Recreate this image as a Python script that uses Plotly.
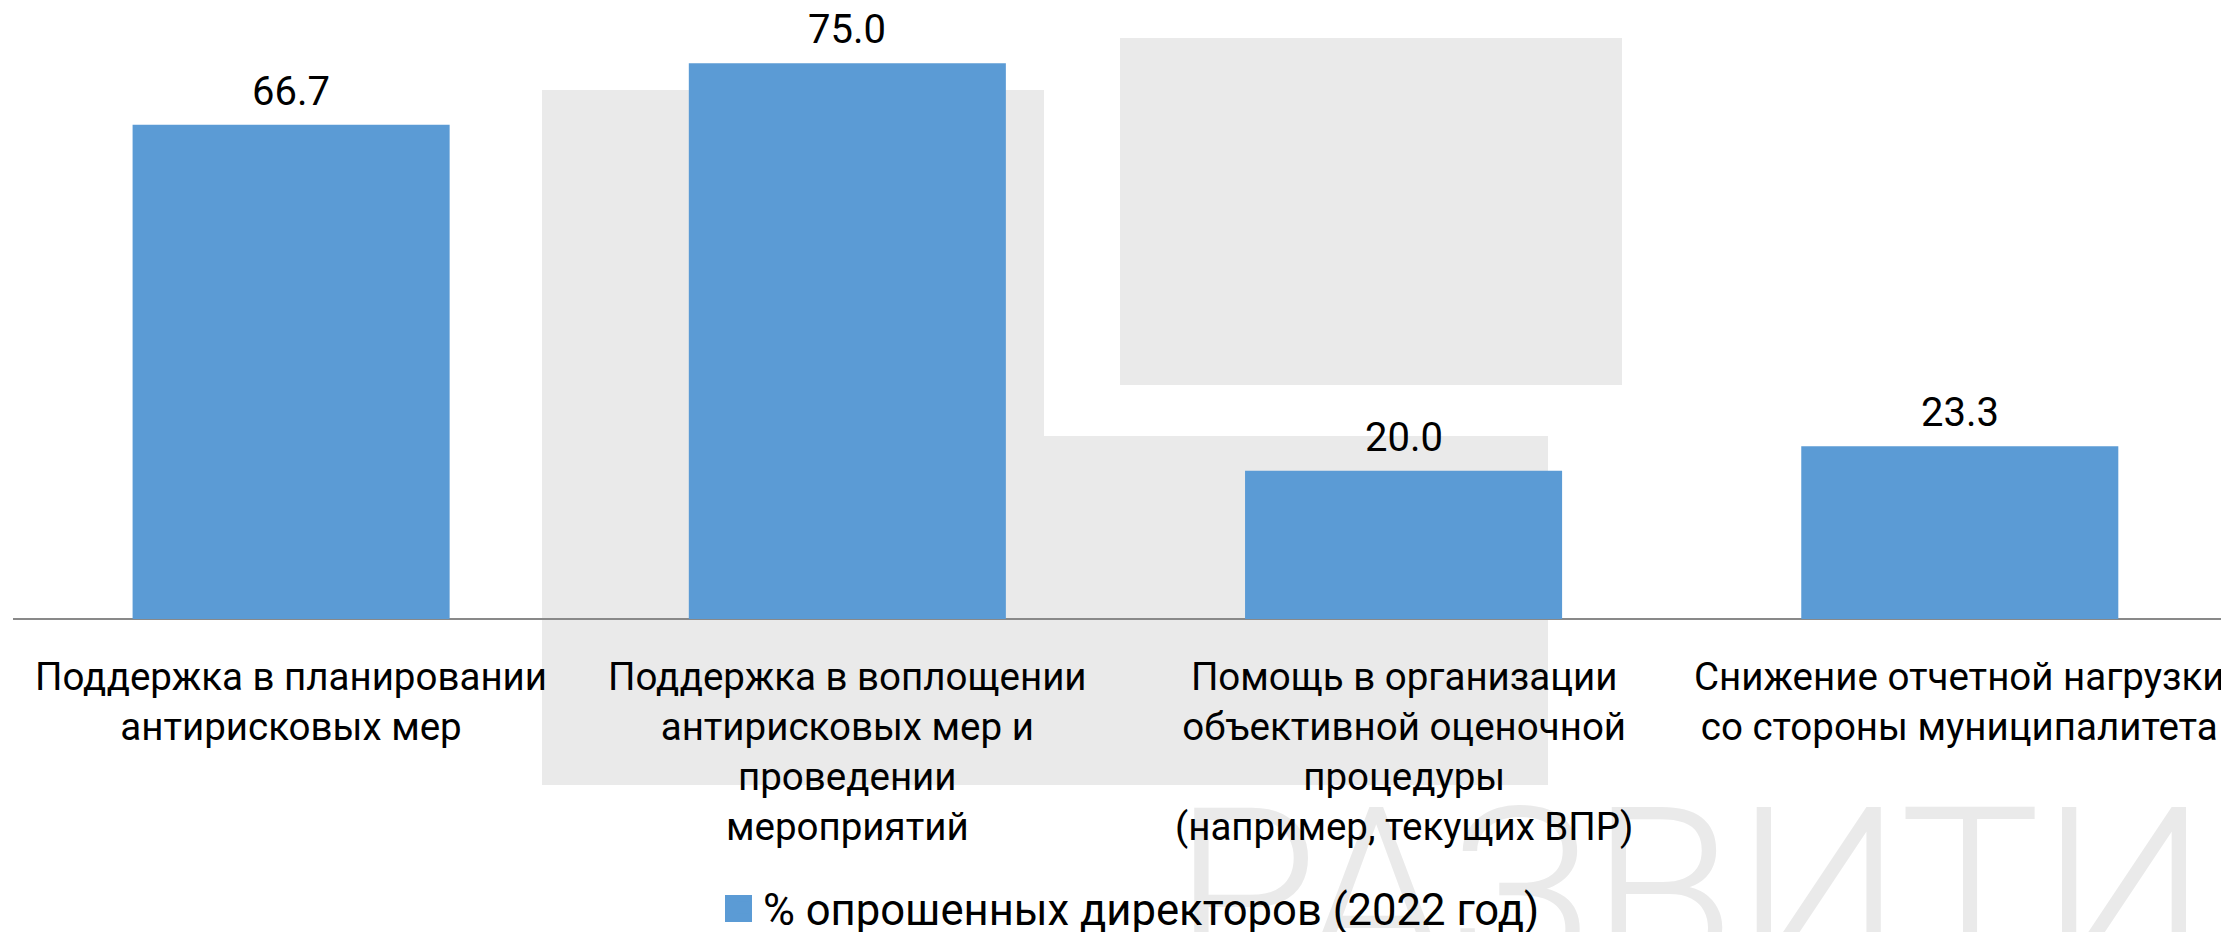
import plotly.graph_objects as go

categories = [
    "Поддержка в планировании антирисковых мер",
    "Поддержка в воплощении антирисковых мер и проведении мероприятий",
    "Помощь в организации объективной оценочной процедуры (например, текущих ВПР)",
    "Снижение отчетной нагрузки со стороны муниципалитета",
]
tick_labels = [
    "Поддержка в планировании<br>антирисковых мер",
    "Поддержка в воплощении<br>антирисковых мер и<br>проведении<br>мероприятий",
    "Помощь в организации<br>объективной оценочной<br>процедуры<br>(например, текущих ВПР)",
    "Снижение отчетной нагрузки<br>со стороны муниципалитета",
]
values = [66.7, 75.0, 20.0, 23.3]
series_name = "% опрошенных директоров (2022 год)"
watermark_text = "РАЗВИТИ"

# target picture size and the page's default body margin
SW, SH = 2229, 932
OFF = 8
W, H = SW - OFF, SH - OFF          # figure size so it ends at the window edge
PLOT_L = 13                        # plot-area left edge in the picture
PW = SW - PLOT_L
AXIS_Y = 619                       # zero line row in the picture
PX_PER_UNIT = 7.41

def pxx(x):
    return (x - PLOT_L) / PW

def pxy(y):
    return (SH - y) / H

BLUE = "#5B9BD5"
GREY = "#EAEAEA"
FONT = "Roboto"

fig = go.Figure()
fig.add_trace(go.Bar(
    x=categories, y=values, name=series_name,
    marker=dict(color=BLUE, line=dict(width=0)),
    showlegend=True, hoverinfo="x+y",
))

# watermark text on a pixel-based overlay axis (kept under the labels)
fig.add_trace(go.Scatter(
    x=[1173], y=[798], mode="text", text=[watermark_text],
    textposition="bottom right",
    textfont=dict(family=FONT, size=236, color=GREY, weight=300),
    xaxis="x2", yaxis="y2", showlegend=False, hoverinfo="skip",
    cliponaxis=False,
))

# value labels
for c, v in zip(categories, values):
    fig.add_annotation(
        x=c, y=v, xref="x", yref="y", text=f"{v:.1f}",
        showarrow=False, yanchor="bottom", yshift=8,
        font=dict(family=FONT, size=40, color="#000000"),
    )

# category labels
for c, lab in zip(categories, tick_labels):
    fig.add_annotation(
        x=c, y=0, xref="x", yref="y", text=lab,
        showarrow=False, yanchor="top", yshift=-33, align="center",
        font=dict(family=FONT, size=38.5, color="#000000"),
    )

# watermark shapes (background decoration)
shapes = [
    dict(x0=542, x1=1044, y0=90, y1=785),
    dict(x0=1044, x1=1548, y0=436, y1=785),
    dict(x0=1120, x1=1622, y0=38, y1=385),
]
for s in shapes:
    fig.add_shape(
        type="rect", xref="paper", yref="paper",
        x0=pxx(s["x0"]), x1=pxx(s["x1"]), y0=pxy(s["y1"]), y1=pxy(s["y0"]),
        fillcolor=GREY, line=dict(width=0), layer="below",
    )

# larger legend key, as in the original
fig.add_shape(
    type="rect", xref="paper", yref="paper",
    x0=pxx(725), x1=pxx(752), y0=pxy(922), y1=pxy(895),
    fillcolor=BLUE, line=dict(width=0), layer="above",
)

fig.update_layout(
    width=W, height=H,
    margin=dict(l=PLOT_L - OFF, r=0, t=0, b=0, pad=0, autoexpand=False),
    paper_bgcolor="white", plot_bgcolor="rgba(0,0,0,0)",
    bargap=0.43,
    font=dict(family=FONT, color="#000000"),
    showlegend=True,
    legend=dict(
        orientation="h", x=pxx(723), xanchor="left", y=pxy(908), yanchor="middle",
        font=dict(family=FONT, size=43.6, color="#000000"),
        bgcolor="rgba(0,0,0,0)",
    ),
    xaxis=dict(
        type="category", range=[-0.5, 3.484], visible=False,
        showgrid=False, fixedrange=True,
    ),
    yaxis=dict(
        range=[-(SH - AXIS_Y) / PX_PER_UNIT, (AXIS_Y - OFF) / PX_PER_UNIT],
        showticklabels=False, showgrid=False, ticks="", showline=False,
        zeroline=True, zerolinecolor="#898989", zerolinewidth=2,
        fixedrange=True,
    ),
    xaxis2=dict(overlaying="x", anchor="y2", type="linear", autorange=False,
                range=[PLOT_L, SW], visible=False, fixedrange=True),
    yaxis2=dict(overlaying="y", anchor="x2", type="linear", autorange=False,
                range=[SH, OFF], visible=False, fixedrange=True),
)

fig.write_html("out.html")
